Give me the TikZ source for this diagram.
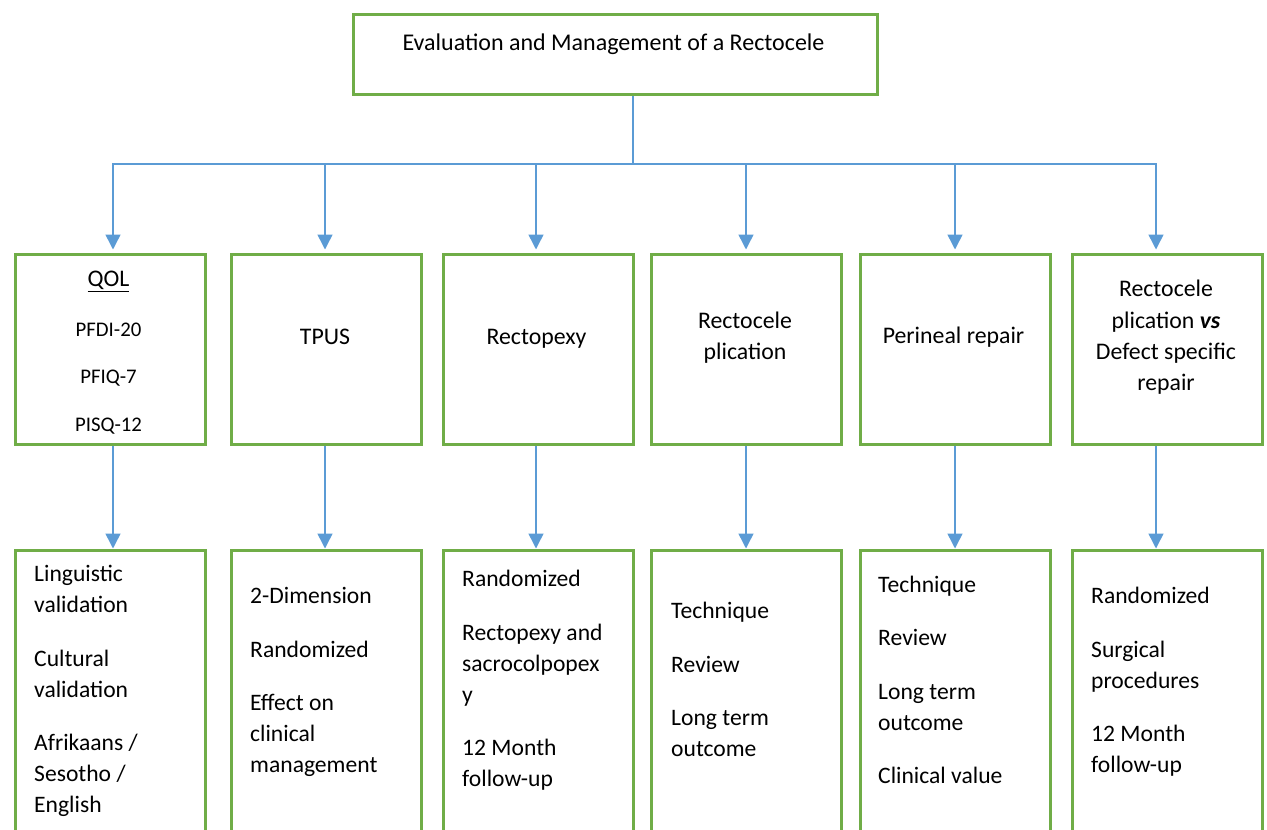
\documentclass[tikz,border=0pt]{standalone}
\usepackage{fontspec}
\setmainfont{Carlito}
\usetikzlibrary{arrows.meta}
\definecolor{boxgreen}{HTML}{70AD47}
\definecolor{lineblue}{HTML}{5B9BD5}
\newcommand{\fs}{\rule{0pt}{20pt}}
\begin{document}
\begin{tikzpicture}[x=1pt,y=-1pt,
  box/.style={draw=boxgreen,line width=3pt,inner sep=0pt,anchor=north west,minimum width=190pt,minimum height=190pt},
  lowbox/.style={box,minimum height=400pt},
  topbox/.style={draw=boxgreen,line width=3pt,inner sep=0pt,anchor=north west,minimum width=524pt,minimum height=80pt},
  conn/.style={draw=lineblue,line width=1.5pt},
  arr/.style={conn,-{Triangle[width=15pt,length=15pt]},lineblue},
  midtxt/.style={inner sep=0pt,anchor=north,align=center,font=\fontsize{23.8pt}{31.3pt}\selectfont},
  smalltxt/.style={inner sep=0pt,anchor=north,align=center,font=\fontsize{20.8pt}{47.5pt}\selectfont},
  lowtxt/.style={inner sep=0pt,anchor=north west,align=left,font=\fontsize{23.6pt}{31pt}\selectfont}
]
\useasboundingbox (0,0) rectangle (1267,830);
\clip (0,0) rectangle (1267,830);

% top
\node[topbox] (top) at (351.5,13) {};
\node[inner sep=0pt,anchor=base,font=\fontsize{24pt}{28pt}\selectfont] (toptxt) at (613.5,50) {Evaluation and Management of a Rectocele};

% middle boxes
\node[box] (m1) at (13.5,252.5) {};
\node[box] (m2) at (230,252.5) {};
\node[box] (m3) at (441.5,252.5) {};
\node[box] (m4) at (650,252.5) {};
\node[box] (m5) at (858.5,252.5) {};
\node[box] (m6) at (1071,252.5) {};

% bottom boxes
\node[lowbox] (b1) at (13.5,548.5) {};
\node[lowbox] (b2) at (230,548.5) {};
\node[lowbox] (b3) at (441.5,548.5) {};
\node[lowbox] (b4) at (650,548.5) {};
\node[lowbox] (b5) at (858.5,548.5) {};
\node[lowbox] (b6) at (1071,548.5) {};

% middle texts
\node[midtxt] (t1a) at (108.5,266.7) {\fs\underline{QOL}};
\node[smalltxt] (t1b) at (108.5,316) {\fs PFDI-20\\PFIQ-7\\PISQ-12};
\node[midtxt] (t2) at (325,324) {\fs TPUS};
\node[midtxt] (t3) at (536.5,324) {\fs Rectopexy};
\node[midtxt] (t4) at (745,308) {\fs Rectocele\\plication};
\node[midtxt] (t5) at (953.5,323.3) {\fs Perineal repair};
\node[midtxt] (t6) at (1166,276.7) {\fs Rectocele\\plication \textbf{\textit{vs}}\\Defect specific\\repair};

% bottom texts
\node[lowtxt] (u1) at (34,561.7) {\fs Linguistic\\validation\\[22.5pt]Cultural\\validation\\[22.5pt]Afrikaans /\\Sesotho /\\English};
\node[lowtxt] (u2) at (250,583.3) {\fs 2-Dimension\\[22.5pt]Randomized\\[22.5pt]Effect on\\clinical\\management};
\node[lowtxt] (u3) at (462,566.7) {\fs Randomized\\[22.5pt]Rectopexy and\\sacrocolpopex\\y\\[22.5pt]12 Month\\follow-up};
\node[lowtxt] (u4) at (671,598.3) {\fs Technique\\[22.5pt]Review\\[22.5pt]Long term\\outcome};
\node[lowtxt] (u5) at (878,572) {\fs Technique\\[22.5pt]Review\\[22.5pt]Long term\\outcome\\[22.5pt]Clinical value};
\node[lowtxt] (u6) at (1091,583.3) {\fs Randomized\\[22.5pt]Surgical\\procedures\\[22.5pt]12 Month\\follow-up};

% bus
\coordinate (bus) at (633,164);
\coordinate (c1) at (113,164);
\coordinate (c2) at (325,164);
\coordinate (c3) at (536,164);
\coordinate (c4) at (746,164);
\coordinate (c5) at (955,164);
\coordinate (c6) at (1156,164);

\draw[conn] (top.south -| bus) -- (bus);
\foreach \i in {1,...,6}{
  \draw[arr,shorten >=3pt] (bus) -- (c\i) -- (m\i.north -| c\i);
  \draw[arr] (m\i.south -| c\i) -- (b\i.north -| c\i);
}
\end{tikzpicture}
\end{document}
